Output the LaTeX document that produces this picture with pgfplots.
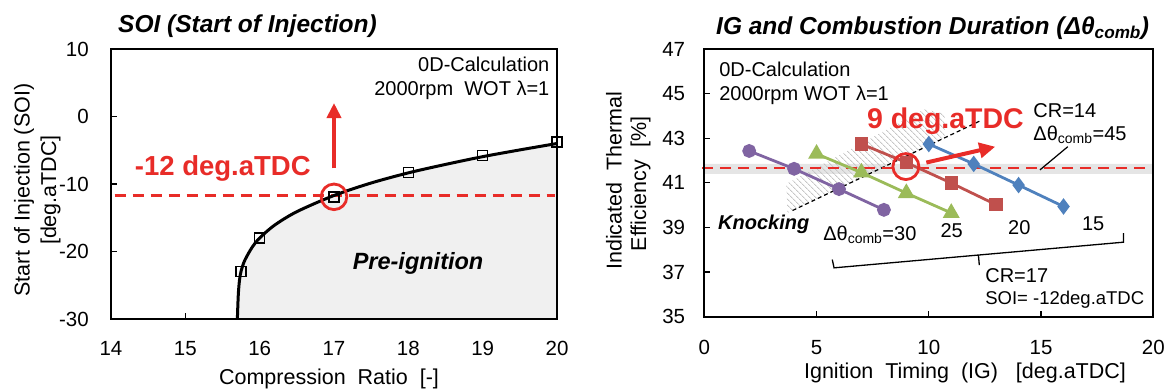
\documentclass[border=0pt]{standalone}
\usepackage{fontspec}
\setmainfont{Liberation Sans}
\usepackage{pgfplots}
\pgfplotsset{compat=1.18}
\usepgfplotslibrary{fillbetween}
\usetikzlibrary{arrows.meta,patterns.meta}
\definecolor{myred}{RGB}{232,44,40}
\definecolor{cpurple}{RGB}{128,100,162}
\definecolor{cgreen}{RGB}{155,187,89}
\definecolor{cred}{RGB}{192,80,77}
\definecolor{cblue}{RGB}{79,129,189}
\pgfplotsset{myax/.style={scale only axis, anchor=south west, clip=false,
  axis line style={line width=1.8pt, black}, tick align=inside, major tick length=6pt,
  tick style={line width=1.3pt, black},
  ticklabel style={font=\fontsize{20.5}{24}\selectfont},
  xticklabel style={anchor=base, inner sep=0pt},
  yticklabel style={anchor=east, inner sep=0pt}}}
\begin{document}
\begin{tikzpicture}
\path (0pt,0pt) rectangle (1170pt,391pt);
% ---------- titles and labels ----------
\node[anchor=base west, inner sep=0pt, font=\fontsize{24.5}{28}\selectfont\bfseries\itshape] at (118pt,358.3pt) {SOI (Start of Injection)};
\node[anchor=base west, inner sep=0pt, font=\fontsize{24.5}{28}\selectfont\bfseries\itshape] at (716pt,356.7pt) {IG and Combustion Duration (Δθ\textsubscript{comb})};
\node[anchor=base, inner sep=0pt, font=\fontsize{21.5}{25}\selectfont] at (329pt,6pt) {Compression\ \ Ratio\ \ [-]};
\node[anchor=base, inner sep=0pt, font=\fontsize{21.5}{25}\selectfont] at (965pt,12.7pt) {Ignition\ \ Timing\ \ (IG)\ \ \ [deg.aTDC]};
\node[anchor=base, rotate=90, inner sep=0pt, font=\fontsize{21.5}{25}\selectfont] at (29.5pt,201pt) {Start\ of\ Injection\ (SOI)};
\node[anchor=base, rotate=90, inner sep=0pt, font=\fontsize{21.5}{25}\selectfont] at (56pt,201pt) {[deg.aTDC]};
\node[anchor=base, rotate=90, inner sep=0pt, font=\fontsize{21.5}{25}\selectfont] at (621.5pt,210.2pt) {Indicated\ \ Thermal};
\node[anchor=base, rotate=90, inner sep=0pt, font=\fontsize{21.5}{25}\selectfont] at (646pt,207pt) {Efficiency\ \ [\%]};

% ---------- left chart ----------
\begin{axis}[myax, at={(111pt,72pt)}, width=446pt, height=270pt,
  xmin=14, xmax=20, ymin=-30, ymax=10,
  xtick={14,15,16,17,18,19,20}, xticklabels={14,15,16,17,18,19,20},
  ytick={-30,-20,-10,0,10}, yticklabels={-30,-20,-10,0,10},
  xtick pos=lower, ytick pos=left,
  xticklabel style={yshift=-36.3pt}, yticklabel style={xshift=-22pt}]
\addplot[draw=none, name path=curve, smooth, forget plot] coordinates {
 (15.700,-30) (15.712,-26.5) (15.728,-24.3) (15.75,-22.9) (15.8,-21.3) (15.9,-19.35)
 (16.0,-18.0) (16.2,-16.1) (16.5,-14.1) (17.0,-11.7) (17.5,-9.85) (18.0,-8.35)
 (18.5,-7.1) (19.0,-5.95) (19.5,-4.95) (20.0,-4.0)};
\addplot[draw=none, name path=bottom, forget plot] coordinates {(15.7,-30) (20,-30)};
\addplot[fill=gray!12, draw=none] fill between[of=curve and bottom];
\addplot[myred, line width=2.6pt, dash pattern=on 11pt off 7pt] coordinates {(14.05,-11.7) (19.97,-11.7)};
\addplot[black, line width=3pt, smooth] coordinates {
 (15.700,-30) (15.712,-26.5) (15.728,-24.3) (15.75,-22.9) (15.8,-21.3) (15.9,-19.35)
 (16.0,-18.0) (16.2,-16.1) (16.5,-14.1) (17.0,-11.7) (17.5,-9.85) (18.0,-8.35)
 (18.5,-7.1) (19.0,-5.95) (19.5,-4.95) (20.0,-4.0)};
\addplot[only marks, black, mark=square, mark size=5pt, mark options={line width=1.5pt}] coordinates {
 (15.75,-23) (16,-18) (17,-11.9) (18,-8.3) (19,-5.8) (20,-3.8)};
\addplot[only marks, mark=o, mark size=12.8pt, mark options={line width=2.8pt, draw=myred}] coordinates {(17,-11.9)};
\addplot[myred, line width=3.8pt, -{Triangle[length=15pt,width=14pt]}] coordinates {(17,-7.7) (17,2.0)};
\node[anchor=base west, inner sep=0pt, text=myred, font=\fontsize{27.5}{30}\selectfont\bfseries] at (axis cs:14.32,-8.67) {-12 deg.aTDC};
\node[anchor=base west, inner sep=0pt, font=\fontsize{23.5}{27}\selectfont\bfseries\itshape] at (axis cs:17.25,-22.74) {Pre-ignition};
\node[anchor=base east, inner sep=0pt, font=\fontsize{20}{24}\selectfont] at (axis cs:19.9,6.64) {0D-Calculation};
\node[anchor=base east, inner sep=0pt, font=\fontsize{20}{24}\selectfont] at (axis cs:19.9,3.04) {2000rpm\ \ WOT λ=1};
\end{axis}

% ---------- right chart ----------
\begin{axis}[myax, at={(704.3pt,74.3pt)}, width=449pt, height=267.7pt,
  xmin=0, xmax=20, ymin=35, ymax=47,
  xtick={0,5,10,15,20}, xticklabels={0,5,10,15,20},
  ytick={35,37,39,41,43,45,47}, yticklabels={35,37,39,41,43,45,47},
  xtick pos=lower, ytick pos=left,
  xticklabel style={yshift=-37.3pt}, yticklabel style={xshift=-19pt}]
\addplot[fill=gray!20, draw=none] coordinates {(0,41.4) (20,41.4) (20,41.85) (0,41.85) (0,41.4)};
\addplot[draw=none, pattern={Lines[angle=-45,distance=4pt,line width=1pt]}, pattern color=gray!45] coordinates {
 (3.7,39.65) (3.65,40.95) (9.8,44.3) (10.7,44.1) (10.7,43.02) (3.7,39.65)};
\addplot[black, line width=1.2pt, dash pattern=on 4pt off 3pt] coordinates {(3.93,39.76) (12.29,43.78)};
\addplot[myred, line width=2.6pt, dash pattern=on 11pt off 7pt] coordinates {(-0.1,41.66) (19.62,41.66)};
\addplot[cpurple, line width=2.8pt, mark=*, mark size=5.5pt] coordinates {(2,42.43) (4,41.63) (6,40.72) (8,39.79)};
\addplot[cgreen, line width=2.8pt, mark=triangle*, mark size=7pt] coordinates {(5,42.3) (7,41.46) (9,40.54) (11,39.65)};
\addplot[cred, line width=2.8pt, mark=square*, mark size=5.3pt] coordinates {(7,42.74) (9,41.91) (11,40.99) (13,40.02)};
\addplot[cblue, line width=2.8pt, mark=diamond*, mark size=6pt] coordinates {(10,42.74) (12,41.85) (14,40.9) (16,39.94)};
\addplot[only marks, mark=o, mark size=13pt, mark options={line width=2.8pt, draw=myred}] coordinates {(8.98,41.73)};
\addplot[myred, line width=4pt, -{Triangle[length=16pt,width=15pt]}] coordinates {(9.89,41.91) (12.96,42.62)};
\addplot[black, line width=1.2pt] coordinates {(16.19,42.62) (14.95,41.58)};
\addplot[black, line width=1.3pt] coordinates {(5.70,37.56) (5.78,37.19) (18.67,38.34) (18.67,38.75)};
\addplot[black, line width=1.3pt] coordinates {(12.21,37.76) (12.25,37.31)};
\node[anchor=base west, inner sep=0pt, font=\fontsize{20}{24}\selectfont] at (axis cs:0.66,45.78) {0D-Calculation};
\node[anchor=base west, inner sep=0pt, font=\fontsize{20}{24}\selectfont] at (axis cs:0.66,44.71) {2000rpm WOT λ=1};
\node[anchor=base west, inner sep=0pt, text=myred, font=\fontsize{28.5}{32}\selectfont\bfseries] at (axis cs:7.24,43.44) {9 deg.aTDC};
\node[anchor=base west, inner sep=0pt, font=\fontsize{20}{24}\selectfont] at (axis cs:14.65,43.93) {CR=14};
\node[anchor=base west, inner sep=0pt, font=\fontsize{20}{24}\selectfont] at (axis cs:14.65,42.89) {Δθ\textsubscript{comb}=45};
\node[anchor=base west, inner sep=0pt, font=\fontsize{20}{24}\selectfont\bfseries\itshape] at (axis cs:0.61,38.9) {Knocking};
\node[anchor=base west, inner sep=0pt, font=\fontsize{20}{24}\selectfont] at (axis cs:5.29,38.42) {Δθ\textsubscript{comb}=30};
\node[anchor=base, inner sep=0pt, font=\fontsize{20}{24}\selectfont] at (axis cs:11.02,38.56) {25};
\node[anchor=base, inner sep=0pt, font=\fontsize{20}{24}\selectfont] at (axis cs:14.03,38.68) {20};
\node[anchor=base, inner sep=0pt, font=\fontsize{20}{24}\selectfont] at (axis cs:17.32,38.86) {15};
\node[anchor=base west, inner sep=0pt, font=\fontsize{20}{24}\selectfont] at (axis cs:12.51,36.52) {CR=17};
\node[anchor=base west, inner sep=0pt, font=\fontsize{18.5}{22}\selectfont] at (axis cs:12.51,35.55) {SOI=\ -12deg.aTDC};
\end{axis}
\draw[black, line width=1.8pt] (111pt,72pt) rectangle (557pt,342pt);
\draw[black, line width=1.8pt] (704.3pt,74.3pt) rectangle (1153.3pt,342pt);
\end{tikzpicture}
\end{document}
